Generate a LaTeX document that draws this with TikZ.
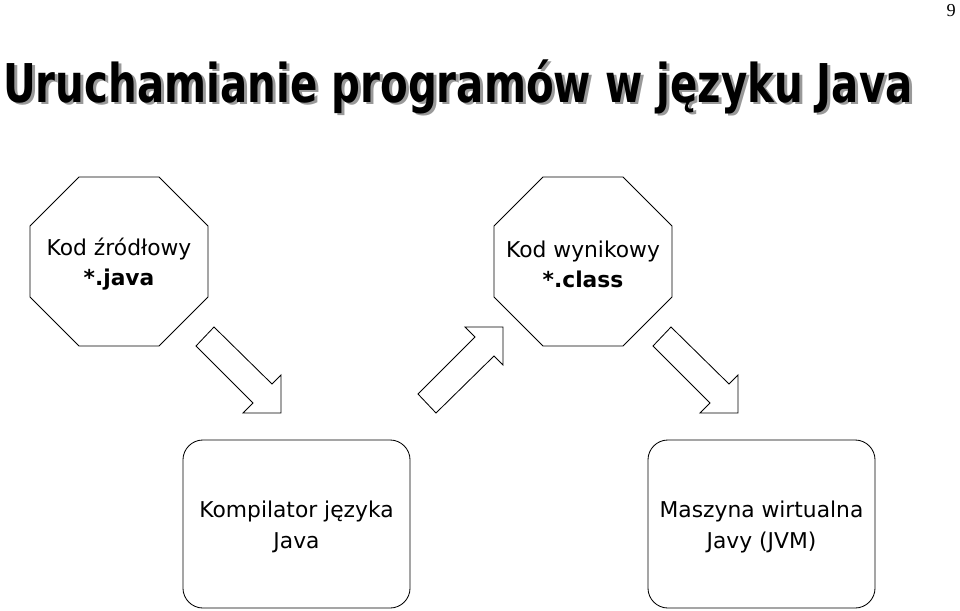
\documentclass[tikz,border=0pt]{standalone}
\usepackage{fontspec}
\setmainfont{DejaVu Sans}
\newfontfamily\pagefont{Liberation Serif}
\usetikzlibrary{positioning}

\begin{document}
\begin{tikzpicture}[
  x=0.025cm,y=-0.025cm,
  heading/.style={font=\fontsize{38}{40}\selectfont\bfseries,inner sep=0pt,anchor=base west,
                  xscale=0.755,transform shape},
  filetext/.style={align=center,font=\fontsize{15.5}{21.5}\selectfont,inner sep=0pt},
  machine/.style={draw,rounded corners=0.5cm,minimum width=5.675cm,minimum height=4.2cm,
                  line width=0.6pt,align=center,font=\fontsize{15.5}{22}\selectfont},
  octagon/.pic={\draw[line width=0.6pt] (-40,-84.5) -- ++(80,0) -- ++(49,49) -- ++(0,71)
                -- ++(-49,49) -- ++(-80,0) -- ++(-49,-49) -- ++(0,-71) -- cycle;},
  blockarrow/.pic={\draw[line width=0.6pt] (-67,-86) -- (-9,-29) -- (0,-38) -- (0,0)
                -- (-38,0) -- (-28,-10) -- (-85,-67) -- cycle;}
]
\useasboundingbox (0,0) rectangle (960,611);
% title with its shadow
\node[heading,text=black!40] (title-shadow) at (6,105) {Uruchamianie programów w języku Java};
\node[heading] (title) at (3,102) {Uruchamianie programów w języku Java};
\node[font=\pagefont\fontsize{13}{15}\selectfont,anchor=base east,inner sep=0pt] (page) at (956,17) {9};
% files
\pic at (119,261.5) {octagon};
\node[filetext] (source) at (119,264) {Kod źródłowy\\\textbf{*.java}};
\pic at (583,261.5) {octagon};
\node[filetext] (bytecode) at (583,264) {Kod wynikowy\\\textbf{*.class}};
% programs
\node[machine] (compiler) at (296.5,524) {\\[-6pt]Kompilator języka\\Java};
\node[machine] (jvm) at (761.5,524) {\\[-6pt]Maszyna wirtualna\\Javy (JVM)};
% block arrows
\pic at (281,413) {blockarrow};
\pic[yscale=-1] at (503,327) {blockarrow};
\pic at (738,413) {blockarrow};
\end{tikzpicture}
\end{document}
